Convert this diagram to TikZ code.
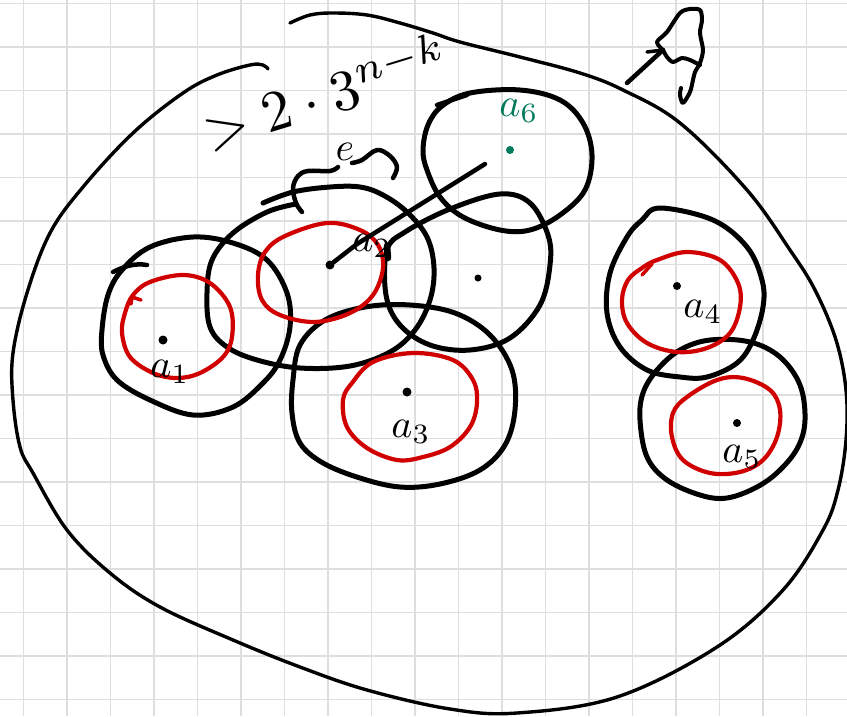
\documentclass[tikz,border=0pt]{standalone}
\definecolor{penred}{RGB}{208,0,0}
\definecolor{pengreen}{RGB}{0,122,92}
\definecolor{gridc}{RGB}{222,222,222}
\begin{document}
\begin{tikzpicture}[x=1pt,y=-1pt,
  gridl/.style={draw=gridc,line width=1.2pt},
  outline/.style={line width=3.4pt,line cap=round,line join=round},
  blk/.style={line width=5pt,line cap=round,line join=round},
  pen/.style={line width=4.5pt,line cap=round,line join=round},
  redc/.style={draw=penred,line width=4.2pt,line cap=round,line join=round},
  dotn/.style={circle,fill=black,inner sep=0pt,minimum size=9pt},
  lbl/.style={inner sep=0pt,scale=4},
]
\useasboundingbox (0,0) rectangle (847,716);
\fill[white] (0,0) rectangle (847,716);
% grid paper
\foreach \i in {0,...,18} \draw[gridl] (23.5+43.5*\i,0) -- (23.5+43.5*\i,716);
\foreach \j in {0,...,16} \draw[gridl] (0,3.5+43.5*\j) -- (847,3.5+43.5*\j);

% outer region
\draw[outline] plot[smooth,tension=0.6] coordinates {(290,23) (310,15) (333,13) (367,15) (400,23) (433,33) (460,42) (520,57) (580,73) (623,90) (680,123) (747,190) (790,250) (815,290) (836,340) (846,390) (846,440) (838,490) (823,530) (783,590) (717,647) (617,697) (517,713) (450,709) (367,690) (300,667) (233,640) (160,607) (110,573) (67,530) (33,473) (20,447) (13,400) (13,353) (27,293) (50,233) (83,187) (133,133) (183,93) (217,75) (250,65) (263,65) (268,69)};

% arrow and scribble top right
\coordinate (arrS) at (627,83);
\coordinate (arrE) at (663,50);
\draw[pen] (arrS) -- (arrE);
\draw[pen,line width=3.5pt] (647,52) -- (arrE);
\draw[pen,line width=4pt] plot[smooth,tension=0.5] coordinates {(663,50) (657,42) (667,32) (680,13) (690,9) (700,10) (702,20) (700,33) (703,50) (700,63) (695,72) (693,80) (690,92) (683,103) (680,95) (681,88)};
\draw[pen,line width=4pt] plot[smooth,tension=0.5] coordinates {(663,50) (667,57) (673,62) (682,58) (690,60) (700,65)};

% black circles
\draw[blk] plot[smooth cycle,tension=0.6] coordinates {(102,330) (108,295) (122,270) (150,247) (193,237) (233,243) (267,260) (287,293) (290,327) (280,360) (263,383) (233,407) (193,415) (150,400) (117,380) (103,355)};
\draw[blk,line width=4.5pt] (113,272) .. controls (125,266) and (135,263) .. (147,265);

\draw[blk] plot[smooth,tension=0.6] coordinates {(263,203) (293,192) (330,187) (360,187) (383,195) (407,212) (427,237) (434,268) (430,300) (415,330) (390,352) (350,366) (300,368) (257,360) (227,347) (210,327) (207,293) (212,260) (233,233) (267,212) (296,204)};

\draw[blk] plot[smooth cycle,tension=0.6] coordinates {(387,250) (405,232) (450,209) (500,194) (530,203) (548,235) (550,265) (540,305) (510,338) (470,350) (430,345) (400,325) (386,295)};
\draw[blk,line width=6.5pt] (388,258) -- (387,246);

\draw[blk] plot[smooth cycle,tension=0.6] coordinates {(423,150) (428,125) (442,106) (470,93) (520,90) (560,100) (583,123) (592,155) (585,190) (560,215) (530,230) (500,230) (463,217) (440,197) (427,170)};
\draw[blk,line width=4.5pt] (437,105) -- (467,95);

\draw[blk] plot[smooth cycle,tension=0.6] coordinates {(293,380) (300,345) (325,320) (365,307) (410,305) (455,313) (490,335) (512,370) (515,410) (505,445) (480,470) (440,484) (400,487) (360,478) (323,463) (300,443) (292,413)};

\draw[blk] plot[smooth cycle,tension=0.6] coordinates {(642,220) (660,208) (713,220) (747,247) (762,280) (763,307) (753,340) (737,363) (707,377) (680,377) (647,370) (620,347) (607,313) (610,273) (627,237)};

\draw[blk] plot[smooth cycle,tension=0.6] coordinates {(640,420) (643,393) (657,370) (680,350) (710,340) (750,342) (780,357) (800,385) (805,420) (798,447) (780,470) (757,487) (727,498) (700,495) (667,480) (647,457)};

% red circles
\draw[redc] plot[smooth cycle,tension=0.6] coordinates {(125,313) (133,295) (150,282) (183,275) (210,283) (230,307) (232,337) (223,357) (200,373) (177,378) (153,373) (130,357) (122,333)};
\draw[redc,line width=3.5pt] (131,304) -- (132,297) -- (141,300);
\draw[redc] plot[smooth cycle,tension=0.6] coordinates {(258,275) (265,252) (285,236) (327,223) (360,230) (378,245) (383,268) (373,295) (350,313) (315,322) (280,315) (262,300)};
\draw[redc] plot[smooth cycle,tension=0.6] coordinates {(352,383) (373,362) (413,353) (453,360) (473,380) (477,403) (470,427) (450,447) (423,457) (397,460) (367,448) (347,427) (343,400)};
\draw[redc] plot[smooth cycle,tension=0.6] coordinates {(628,280) (642,268) (657,260) (687,252) (720,260) (738,283) (740,307) (730,333) (707,348) (677,352) (647,343) (627,323) (622,300)};
\draw[redc,line width=3.5pt] (642,275) -- (652,264);
\draw[redc] plot[smooth cycle,tension=0.6] coordinates {(673,413) (687,397) (717,380) (743,378) (770,390) (780,410) (777,437) (763,460) (740,472) (710,473) (683,460) (672,437)};

% points
\node[dotn] (d1) at (163,340) {};
\node[dotn] (d2) at (330,265) {};
\node[dotn,minimum size=7pt] (d3) at (478,278) {};
\node[dotn,fill=pengreen,minimum size=8pt] (d6) at (510,150) {};
\node[dotn] (da3) at (407,392) {};
\node[dotn,minimum size=8pt] (d4) at (677,286) {};
\node[dotn,minimum size=8pt] (d5) at (737,423) {};

% connector from a2 towards a6
\coordinate (a6end) at (485,164);
\draw[pen] (d2) -- (357,244) -- (a6end);

% labels
\node[lbl] (l1) at (170,372) {$a_1$};
\node[lbl] (l2) at (372,246) {$a_2$};
\node[lbl] (l3) at (411,432) {$a_3$};
\node[lbl] (l4) at (703,312) {$a_4$};
\node[lbl] (l5) at (742,457) {$a_5$};
\node[lbl,text=pengreen] (l6) at (519,111) {$a_6$};

% brace with label e
\draw[pen] plot[smooth,tension=0.6] coordinates {(302,212) (296,203) (293,188) (298,176) (308,171) (330,171) (338,167)};
\node[lbl] (elab) at (345,152) {$e$};
\draw[pen] plot[smooth,tension=0.6] coordinates {(352,163) (362,160) (377,150) (390,156) (397,167) (393,178)};

% bound label
\node[inner sep=0pt,rotate=17,scale=5.8] (bound) at (325,92) {$>2\cdot 3^{n-k}$};
\end{tikzpicture}
\end{document}
